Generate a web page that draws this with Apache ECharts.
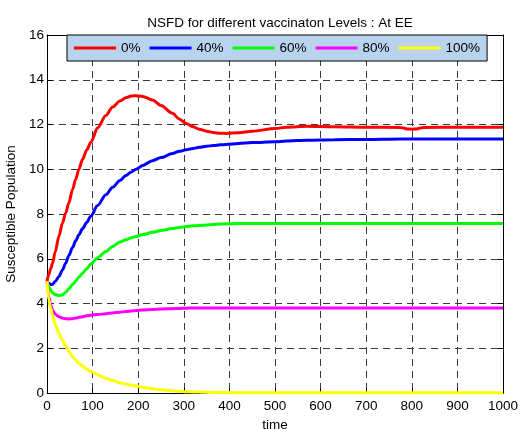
<!DOCTYPE html>
<html>
<head>
<meta charset="utf-8">
<script src="https://cdn.jsdelivr.net/npm/echarts@6/dist/echarts.min.js"></script>
<style>
  html, body { margin: 0; padding: 0; background: #fff; }
  #chart { width: 520px; height: 430px; }
</style>
</head>
<body>
<div id="chart"></div>
<script>
// Sample times shared by all five vaccination levels
const time = [0, 4, 8, 12, 18, 26, 34, 41, 48, 56, 63, 70, 78, 87, 96, 111, 129, 144, 160, 173, 185, 195,
  210, 231, 250, 275, 290, 305, 320, 334, 350, 365, 380, 393, 420, 450, 500, 525, 570, 630, 700, 775, 790,
  800, 810, 825, 900, 1000];

// Susceptible population at each sample time
const v0 = [5.0, 5.3, 5.55, 5.8, 6.3, 7.0, 7.6, 8.05, 8.5, 9.1, 9.55, 10.0, 10.45, 10.85, 11.2, 11.85, 12.4,
  12.78, 13.05, 13.2, 13.27, 13.29, 13.25, 13.1, 12.85, 12.5, 12.25, 12.05, 11.9, 11.79, 11.7, 11.64, 11.61,
  11.6, 11.63, 11.7, 11.82, 11.88, 11.92, 11.9, 11.88, 11.87, 11.8, 11.79, 11.8, 11.87, 11.88, 11.88];
const v40 = [5.0, 4.9, 4.85, 4.85, 4.98, 5.2, 5.5, 5.8, 6.15, 6.5, 6.8, 7.07, 7.35, 7.62, 7.9, 8.38, 8.86,
  9.2, 9.5, 9.72, 9.88, 10.0, 10.17, 10.38, 10.52, 10.7, 10.8, 10.87, 10.93, 10.98, 11.03, 11.06, 11.09,
  11.11, 11.15, 11.19, 11.23, 11.26, 11.3, 11.32, 11.33, 11.35, 11.35, 11.35, 11.35, 11.35, 11.35, 11.35];
const v60 = [5.0, 4.75, 4.6, 4.48, 4.4, 4.36, 4.38, 4.5, 4.66, 4.85, 5.0, 5.18, 5.35, 5.55, 5.76, 6.05, 6.32,
  6.55, 6.75, 6.85, 6.94, 7.0, 7.08, 7.18, 7.26, 7.35, 7.4, 7.44, 7.47, 7.49, 7.51, 7.53, 7.55,
  7.56, 7.57, 7.58, 7.58, 7.58, 7.58, 7.58, 7.58, 7.58, 7.58, 7.58, 7.58, 7.58, 7.58, 7.58];
const v80 = [5.0, 4.3, 3.95, 3.71, 3.52, 3.41, 3.35, 3.32, 3.31, 3.32, 3.35, 3.38, 3.41, 3.45, 3.48, 3.51, 3.54,
  3.58, 3.61, 3.64, 3.67, 3.69, 3.71, 3.73, 3.75, 3.77, 3.78, 3.79, 3.8, 3.8, 3.8, 3.8, 3.8,
  3.8, 3.8, 3.8, 3.8, 3.8, 3.8, 3.8, 3.8, 3.8, 3.8, 3.8, 3.8, 3.8, 3.8, 3.8];
const v100 = [5.0, 4.16, 3.8, 3.49, 3.05, 2.67, 2.35, 2.1, 1.85, 1.62, 1.47, 1.33, 1.2, 1.07, 0.96, 0.82, 0.66,
  0.56, 0.46, 0.4, 0.35, 0.31, 0.25, 0.19, 0.14, 0.1, 0.08, 0.06, 0.05, 0.04, 0.03, 0.025, 0.02,
  0.02, 0.015, 0.01, 0.01, 0.01, 0.01, 0.01, 0.01, 0.01, 0.01, 0.01, 0.01, 0.01, 0.01, 0.01];

const levels = ['0%', '40%', '60%', '80%', '100%'];
const colors = ['#ff0000', '#0000ff', '#00ff00', '#ff00ff', '#ffff00'];
const values = [v0, v40, v60, v80, v100];

const xTicks = { min: 0, max: 1000, interval: 100 };
const yTicks = { min: 0, max: 16, interval: 2 };

const FONT = "'Liberation Sans', Arial, Helvetica, sans-serif";

const chart = echarts.init(document.getElementById('chart'), null, { renderer: 'canvas' });

const gridLine = { show: true, lineStyle: { color: '#3a3a3a', width: 1, type: [7, 5] } };
const tickStyle = { show: true, inside: true, length: 5, lineStyle: { color: '#000', width: 1 } };
const axisLine = { show: true, onZero: false, lineStyle: { color: '#000', width: 1 } };

chart.setOption({
  animation: false,
  backgroundColor: '#fff',
  textStyle: { fontFamily: FONT },
  title: {
    text: 'NSFD for different vaccinaton Levels : At EE',
    left: 275,
    textAlign: 'center',
    top: 11,
    textStyle: { fontFamily: FONT, fontSize: 13.5, fontWeight: 'normal', color: '#000' }
  },
  legend: {
    data: levels,
    left: 67,
    top: 35,
    orient: 'horizontal',
    icon: 'rect',
    itemWidth: 42,
    itemHeight: 3,
    itemGap: 9,
    padding: [6, 7, 6, 7],
    backgroundColor: '#b9d3ef',
    borderColor: '#000',
    borderWidth: 1,
    borderRadius: 0,
    selectedMode: false,
    textStyle: { fontFamily: FONT, fontSize: 13.5, color: '#000' }
  },
  grid: { left: 47, right: 17, top: 35, bottom: 37, show: false, containLabel: false, outerBoundsMode: 'none' },
  xAxis: [
    {
      type: 'value', position: 'bottom', ...xTicks,
      name: 'time', nameLocation: 'middle', nameGap: 24,
      nameTextStyle: { fontFamily: FONT, fontSize: 13.5, color: '#000' },
      axisLine, axisTick: tickStyle, splitLine: gridLine,
      axisLabel: { color: '#000', fontFamily: FONT, fontSize: 13.5, margin: 6, formatter: v => String(v) }
    },
    {
      type: 'value', position: 'top', ...xTicks,
      axisLine, axisTick: tickStyle, splitLine: { show: false }, axisLabel: { show: false }
    }
  ],
  yAxis: [
    {
      type: 'value', position: 'left', ...yTicks,
      name: 'Susceptible Population', nameLocation: 'middle', nameGap: 24, nameRotate: 90,
      nameTextStyle: { fontFamily: FONT, fontSize: 13.5, color: '#000' },
      axisLine, axisTick: tickStyle, splitLine: gridLine,
      axisLabel: { color: '#000', fontFamily: FONT, fontSize: 13.5, margin: 3, formatter: v => String(v) }
    },
    {
      type: 'value', position: 'right', ...yTicks,
      axisLine, axisTick: tickStyle, splitLine: { show: false }, axisLabel: { show: false }
    }
  ],
  series: levels.map((name, i) => ({
    name,
    type: 'line',
    xAxisIndex: 0,
    yAxisIndex: 0,
    data: time.map((t, k) => [t, values[i][k]]),
    showSymbol: false,
    symbol: 'none',
    smooth: 0.3,
    smoothMonotone: 'x',
    clip: false,
    z: 10 + i,
    itemStyle: { color: colors[i] },
    lineStyle: { color: colors[i], width: 3 }
  }))
});
</script>
</body>
</html>
